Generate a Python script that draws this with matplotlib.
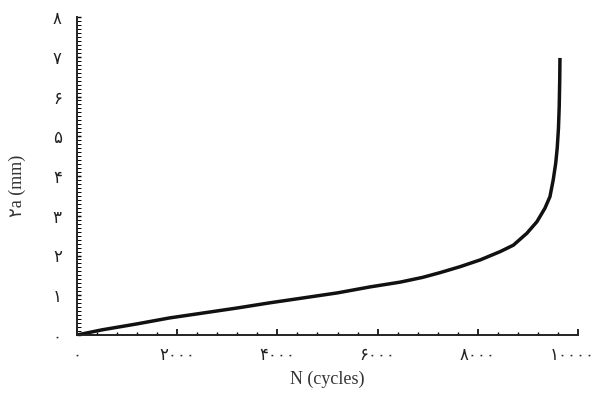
import matplotlib
matplotlib.use("Agg")
import matplotlib.pyplot as plt
import matplotlib.transforms as mtransforms
from matplotlib.ticker import MultipleLocator, FixedLocator, FixedFormatter

# Data
cycles = [0, 500, 1200, 1850, 2500, 3200, 3850, 4500, 5200, 5850, 6450,
          6900, 7250, 7650, 8050, 8450, 8710, 8980, 9180, 9340, 9440,
          9505, 9555, 9585, 9610, 9625, 9635, 9640]
crack_2a = [0, 0.13, 0.28, 0.43, 0.55, 0.68, 0.81, 0.93, 1.06, 1.21, 1.33,
            1.45, 1.57, 1.72, 1.89, 2.10, 2.26, 2.56, 2.85, 3.19, 3.48,
            3.90, 4.32, 4.70, 5.20, 5.74, 6.40, 6.97]

x_ticks = [0, 2000, 4000, 6000, 8000, 10000]
x_labels = ["۰", "۲۰۰۰", "۴۰۰۰", "۶۰۰۰", "۸۰۰۰", "۱۰۰۰۰"]
y_ticks = [0, 1, 2, 3, 4, 5, 6, 7, 8]
y_labels = ["۰", "۱", "۲", "۳", "۴", "۵", "۶", "۷", "۸"]

plt.rcParams['font.family'] = ['Liberation Serif', 'DejaVu Sans']

fig = plt.figure(figsize=(5.96, 3.94), dpi=100)
ax = fig.add_axes([77/596, 1-335/394, (578-77)/596, (335-17)/394])

ax.plot(cycles, crack_2a, color='#111111', lw=2.5, solid_capstyle='butt',
        solid_joinstyle='round')

ax.set_xlim(0, 10000)
ax.set_ylim(0, 8)

for s in ['top', 'right']:
    ax.spines[s].set_visible(False)
for s in ['left', 'bottom']:
    ax.spines[s].set_linewidth(1.4)
    ax.spines[s].set_color('#222222')

ax.xaxis.set_major_locator(FixedLocator(x_ticks))
ax.xaxis.set_major_formatter(FixedFormatter(x_labels))
ax.xaxis.set_minor_locator(MultipleLocator(400))
ax.yaxis.set_major_locator(FixedLocator(y_ticks))
ax.yaxis.set_major_formatter(FixedFormatter(y_labels))
ax.yaxis.set_minor_locator(MultipleLocator(0.1))

ax.tick_params(axis='x', which='major', direction='in', length=4, width=1.2, pad=8, labelsize=12)
ax.tick_params(axis='x', which='minor', direction='in', length=2.5, width=1.0)
ax.tick_params(axis='y', which='major', direction='in', length=3, width=1.0, pad=11, labelsize=12)
ax.tick_params(axis='y', which='minor', direction='in', length=3, width=0.7)

fig.canvas.draw()
for lbl in ax.get_xticklabels() + ax.get_yticklabels():
    lbl.set_family(['DejaVu Sans'])
    lbl.set_color('#222222')
last = ax.get_xticklabels()[-1]
last.set_transform(last.get_transform() + mtransforms.ScaledTranslation(-6/100, 0, fig.dpi_scale_trans))

ax.set_xlabel("N (cycles)", fontsize=13, color='#333333', labelpad=5)
ax.set_ylabel("۲a (mm)", fontsize=13, color='#333333')
ax.yaxis.set_label_coords(-0.102, 0.47)

fig.savefig("out.png", dpi=100)
